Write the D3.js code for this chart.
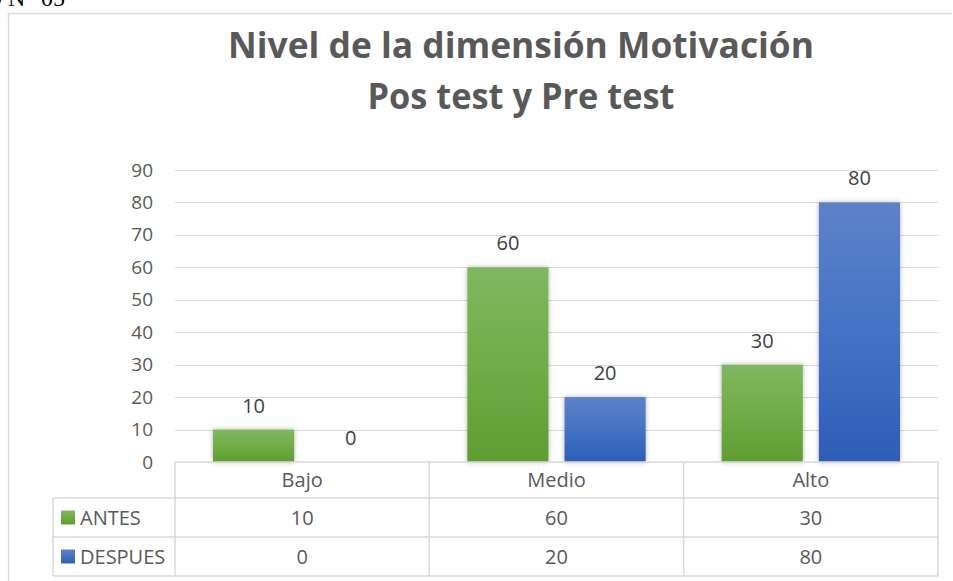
<!DOCTYPE html>
<html>
<head>
<meta charset="utf-8">
<script src="https://cdn.jsdelivr.net/npm/d3@7"></script>
<style>
  html, body { margin: 0; padding: 0; background: #fff; }
  svg { display: block; }
</style>
</head>
<body>
<svg id="chart" width="953" height="581"></svg>
<script>
const categories = ["Bajo", "Medio", "Alto"];
const seriesNames = ["ANTES", "DESPUES"];
const antes = [10, 60, 30];
const despues = [0, 20, 80];
const yTicks = [0, 10, 20, 30, 40, 50, 60, 70, 80, 90];
const titleLines = ["Nivel de la dimensión Motivación", "Pos test y Pre test"];
const captionText = "GRÁFICO N° 05";

const seriesValues = [antes, despues];
const svg = d3.select("#chart");
const FONT = "'Open Sans', 'Noto Sans', sans-serif";
const TXT = "#595959";
const GRID = "#d9d9d9";

const defs = svg.append("defs");
const gradSpecs = [
  { id: "gAntes", stops: ["#80b761", "#70ad47", "#5f9d31"] },
  { id: "gDespues", stops: ["#5d82ca", "#4472c4", "#2e5eb7"] }
];
gradSpecs.forEach(g => {
  const lg = defs.append("linearGradient").attr("id", g.id)
    .attr("x1", 0).attr("y1", 0).attr("x2", 0).attr("y2", 1);
  lg.append("stop").attr("offset", "0%").attr("stop-color", g.stops[0]);
  lg.append("stop").attr("offset", "50%").attr("stop-color", g.stops[1]);
  lg.append("stop").attr("offset", "100%").attr("stop-color", g.stops[2]);
});
const f = defs.append("filter").attr("id", "shadow")
  .attr("x", "-20%").attr("y", "-20%").attr("width", "140%").attr("height", "140%");
f.append("feDropShadow").attr("dx", 0).attr("dy", 0).attr("stdDeviation", 2.5)
  .attr("flood-color", "#000").attr("flood-opacity", 0.3);

// caption fragment (cut off at top, as in the reference)
svg.append("text").attr("x", 65).attr("y", 6).attr("text-anchor", "end")
  .attr("font-family", "'Liberation Serif', 'Times New Roman', serif")
  .attr("font-size", 24).attr("fill", "#000").text(captionText);

// chart frame
svg.append("path").attr("d", "M8.5,581 V13.5 H952")
  .attr("fill", "none").attr("stroke", GRID).attr("stroke-width", 1.5);

// title
const titleY = [58, 109];
const titleW = [586, 307];
titleLines.forEach((t, i) => {
  svg.append("text").attr("x", 521).attr("y", titleY[i]).attr("text-anchor", "middle")
    .attr("font-family", FONT).attr("font-weight", 700).attr("font-size", 35)
    .attr("fill", TXT)
    .attr("textLength", titleW[i]).attr("lengthAdjust", "spacingAndGlyphs")
    .text(t);
});

const plotL = 175, plotR = 938, plotT = 170, plotB = 462;
const y = d3.scaleLinear().domain([0, 90]).range([plotB, plotT]);
const x0 = d3.scaleBand().domain(categories).range([plotL, plotR]).padding(0);
const bw = x0.bandwidth();
const x1 = d3.scaleBand().domain(seriesNames).range([38, bw - 38]).paddingInner(0.165);

// gridlines
svg.append("g").selectAll("line").data(yTicks.filter(d => d > 0)).join("line")
  .attr("x1", plotL).attr("x2", plotR)
  .attr("y1", d => Math.round(y(d)) + 0.5).attr("y2", d => Math.round(y(d)) + 0.5)
  .attr("stroke", GRID).attr("stroke-width", 1);

// y axis labels
const yAxis = d3.axisLeft(y).tickValues(yTicks).tickSize(0).tickPadding(0);
const yg = svg.append("g").attr("transform", `translate(${plotL - 22},0)`).call(yAxis);
yg.select(".domain").remove();
yg.selectAll("text").attr("font-family", FONT).attr("font-size", 19).attr("fill", TXT);

// bars
const gradIds = ["url(#gAntes)", "url(#gDespues)"];
seriesNames.forEach((s, si) => {
  const g = svg.append("g");
  const data = categories.map((c, ci) => ({ c, v: seriesValues[si][ci] }));
  g.selectAll("rect").data(data.filter(d => d.v > 0)).join("rect")
    .attr("x", d => x0(d.c) + x1(s))
    .attr("y", d => y(d.v))
    .attr("width", x1.bandwidth())
    .attr("height", d => y(0) - y(d.v))
    .attr("fill", gradIds[si])
    .attr("filter", "url(#shadow)");
  g.selectAll("text").data(data).join("text")
    .attr("x", d => x0(d.c) + x1(s) + x1.bandwidth() / 2)
    .attr("y", d => y(d.v) - 17)
    .attr("text-anchor", "middle")
    .attr("font-family", FONT).attr("font-size", 20).attr("fill", "#404040")
    .text(d => d.v);
});

// data table
const tableL = 53;
const rowY = [462, 498, 537, 576];
const tg = svg.append("g").attr("stroke", GRID).attr("stroke-width", 1.5).attr("fill", "none");
tg.append("line").attr("x1", plotL).attr("x2", plotR).attr("y1", rowY[0]).attr("y2", rowY[0]);
[1, 2, 3].forEach(i => {
  tg.append("line").attr("x1", tableL).attr("x2", plotR).attr("y1", rowY[i]).attr("y2", rowY[i]);
});
tg.append("line").attr("x1", tableL).attr("x2", tableL).attr("y1", rowY[1]).attr("y2", rowY[3]);
[...categories.map(c => x0(c)), plotR].forEach(xv => {
  tg.append("line").attr("x1", xv).attr("x2", xv).attr("y1", rowY[0]).attr("y2", rowY[3]);
});

// header
svg.append("g").selectAll("text").data(categories).join("text")
  .attr("x", d => x0(d) + bw / 2).attr("y", (rowY[0] + rowY[1]) / 2)
  .attr("dy", "0.35em").attr("text-anchor", "middle")
  .attr("font-family", FONT).attr("font-size", 20).attr("fill", TXT).text(d => d);

// rows
seriesNames.forEach((s, si) => {
  const cy = (rowY[si + 1] + rowY[si + 2]) / 2;
  svg.append("rect").attr("x", 61).attr("y", cy - 7).attr("width", 14).attr("height", 14)
    .attr("fill", gradIds[si]);
  svg.append("text").attr("x", 80).attr("y", cy).attr("dy", "0.35em")
    .attr("font-family", FONT).attr("font-size", 20).attr("fill", TXT).text(s);
  svg.append("g").selectAll("text").data(categories).join("text")
    .attr("x", d => x0(d) + bw / 2).attr("y", cy).attr("dy", "0.35em")
    .attr("text-anchor", "middle")
    .attr("font-family", FONT).attr("font-size", 20).attr("fill", TXT)
    .text((d, ci) => seriesValues[si][ci]);
});
</script>
</body>
</html>
